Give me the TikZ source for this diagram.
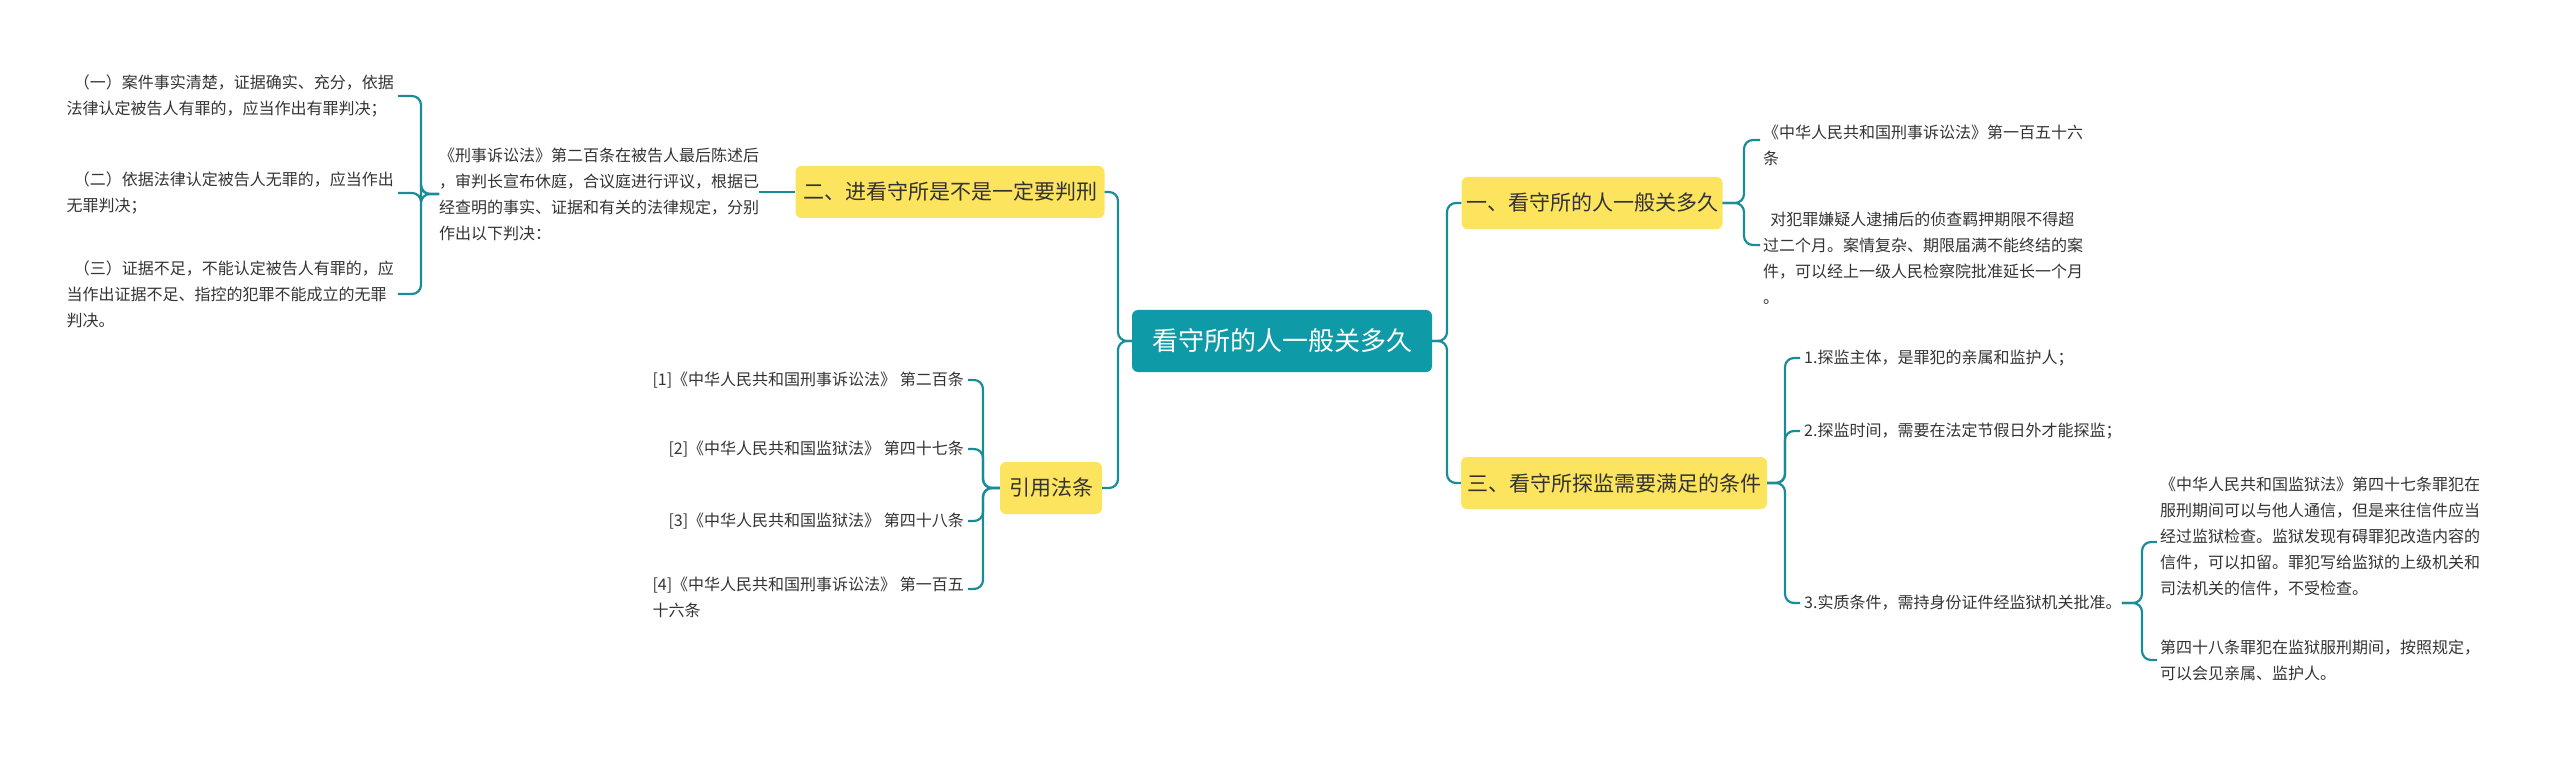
\documentclass[tikz,border=0pt]{standalone}
\usepackage{fontspec}
\setmainfont{Noto Sans CJK SC}
\definecolor{teal1}{HTML}{0E9AA7}
\definecolor{line1}{HTML}{1A8C97}
\definecolor{yel}{HTML}{FCE45E}
\definecolor{txt}{HTML}{333333}
\begin{document}
\begin{tikzpicture}[x=1pt,y=-1pt,
  leaf/.style={inner sep=0pt,align=left,text=txt,font=\fontsize{16}{26}\selectfont},
  rleaf/.style={inner sep=0pt,align=right,text=txt,font=\fontsize{16}{26}\selectfont},
  topic/.style={fill=yel,rounded corners=6pt,inner sep=0pt,minimum height=52pt,text=txt,font=\fontsize{21}{26}\selectfont},
  conn/.style={draw=line1,line width=2.2pt,rounded corners=9pt}]
\useasboundingbox (0,0) rectangle (2560,759);
\node[fill=teal1,rounded corners=6pt,minimum width=300pt,minimum height=62pt,text=white,font=\fontsize{26}{30}\selectfont] (c) at (1282,341) {看守所的人一般关多久};
\node[topic,minimum width=309pt] (t2) at (950,192) {二、进看守所是不是一定要判刑};
\node[topic,minimum width=102pt] (t4) at (1051,488) {引用法条};
\node[topic,minimum width=261pt] (t1) at (1592,203) {一、看守所的人一般关多久};
\node[topic,minimum width=306pt] (t3) at (1614,483) {三、看守所探监需要满足的条件};
% right leaves
\node[leaf,anchor=west] (r1) at (1763,145) {《中华人民共和国刑事诉讼法》第一百五十六\\条};
\node[leaf,anchor=west] (r2) at (1763,258) {\ \ 对犯罪嫌疑人逮捕后的侦查羁押期限不得超\\过二个月。案情复杂、期限届满不能终结的案\\件，可以经上一级人民检察院批准延长一个月\\。};
\node[leaf,anchor=west] (s1) at (1804,358) {1.探监主体，是罪犯的亲属和监护人；};
\node[leaf,anchor=west] (s2) at (1804,431) {2.探监时间，需要在法定节假日外才能探监；};
\node[leaf,anchor=west] (s3) at (1804,603) {3.实质条件，需持身份证件经监狱机关批准。};
\node[leaf,anchor=west] (u1) at (2160,537) {《中华人民共和国监狱法》第四十七条罪犯在\\服刑期间可以与他人通信，但是来往信件应当\\经过监狱检查。监狱发现有碍罪犯改造内容的\\信件，可以扣留。罪犯写给监狱的上级机关和\\司法机关的信件，不受检查。};
\node[leaf,anchor=west] (u2) at (2160,660) {第四十八条罪犯在监狱服刑期间，按照规定，\\可以会见亲属、监护人。};
% left
\node[leaf,anchor=west] (m) at (439,194) {《刑事诉讼法》第二百条在被告人最后陈述后\\，审判长宣布休庭，合议庭进行评议，根据已\\经查明的事实、证据和有关的法律规定，分别\\作出以下判决：};
\node[leaf,anchor=east] (l1) at (394,96) {\ \ （一）案件事实清楚，证据确实、充分，依据\\法律认定被告人有罪的，应当作出有罪判决；};
\node[leaf,anchor=east] (l2) at (394,193) {\ \ （二）依据法律认定被告人无罪的，应当作出\\无罪判决；\hphantom{被告人无罪的，应当作出有}};
\node[leaf,anchor=east] (l3) at (394,294) {\ \ （三）证据不足，不能认定被告人有罪的，应\\当作出证据不足、指控的犯罪不能成立的无罪\\判决。\hphantom{指控的犯罪不能成立的无罪}};
\node[rleaf,anchor=east] (f1) at (964,380) {[1]《中华人民共和国刑事诉讼法》 第二百条};
\node[rleaf,anchor=east] (f2) at (964,449) {[2]《中华人民共和国监狱法》 第四十七条};
\node[rleaf,anchor=east] (f3) at (964,521) {[3]《中华人民共和国监狱法》 第四十八条};
\node[leaf,anchor=east] (f4) at (964,597) {[4]《中华人民共和国刑事诉讼法》 第一百五\\十六条\hphantom{人民共和国刑事诉讼法》 第一百五}};
% connectors
\foreach \ch in {t2,t4} \draw[conn] (c.west) -- (1118,341) |- (\ch.east);
\foreach \ch in {t1,t3} \draw[conn] (c.east) -- (1447,341) |- (\ch.west);
\foreach \ch/\yy in {r1/140,r2/245} \draw[conn] (t1.east) -- (1744,203) |- (1760,\yy);
\foreach \ch in {s1,s2,s3} \draw[conn] (t3.east) -- (1785,483) |- ([xshift=-4pt]\ch.west);
\foreach \ch/\yy in {u1/542,u2/660} \draw[conn] (s3.east) -- (2142,603) |- (2157,\yy);
\draw[conn] (t2.west) -- (m.east |- t2.west);
\foreach \ch in {l1,l2,l3} \draw[conn] (m.west) -- (421,194) |- ([xshift=4pt]\ch.east);
\foreach \ch/\yy in {f1/380,f2/449,f3/521,f4/589} \draw[conn] (t4.west) -- (983,488) |- (968,\yy);
\end{tikzpicture}
\end{document}
